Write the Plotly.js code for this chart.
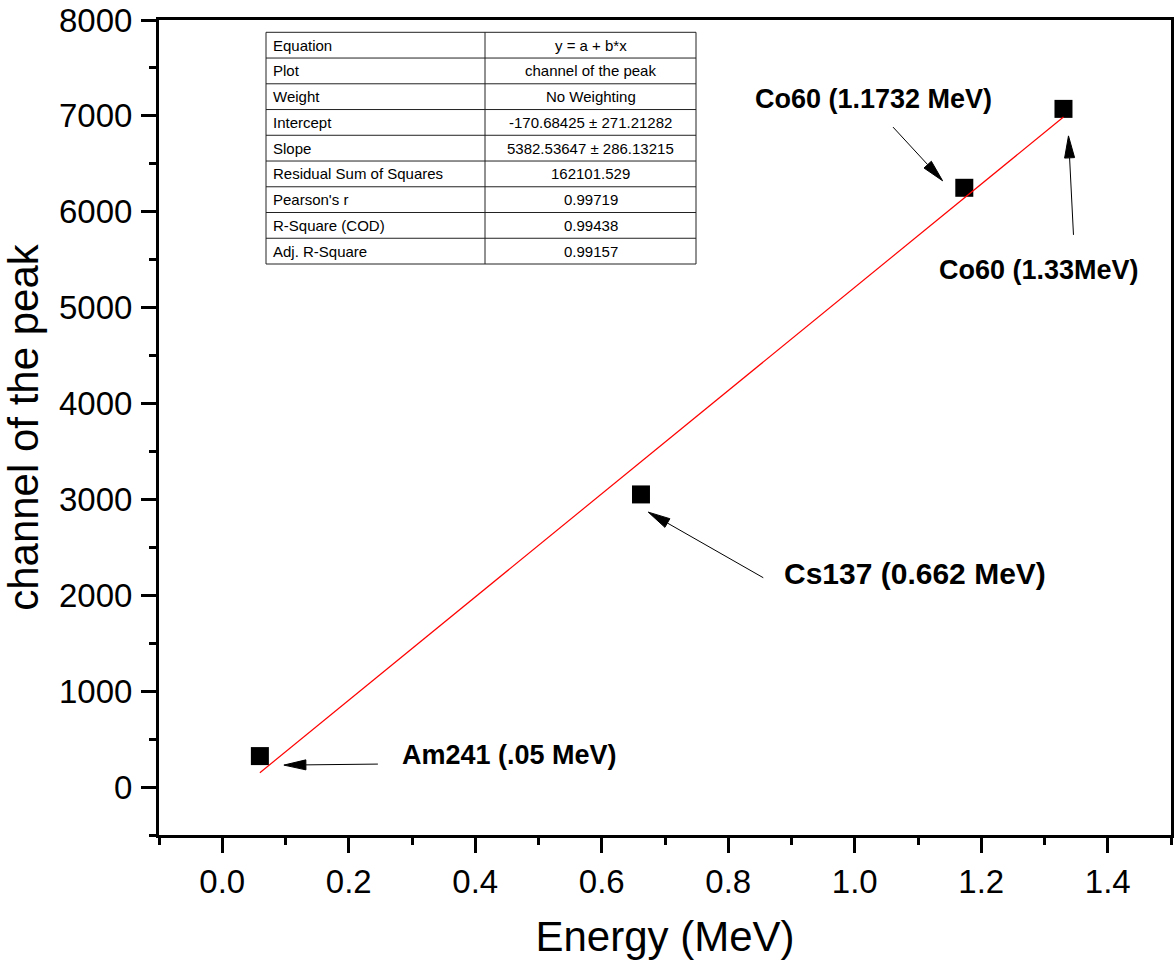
<!DOCTYPE html>
<html>
<head>
<meta charset="utf-8">
<script src="https://cdn.plot.ly/plotly-3.0.1.min.js"></script>
<style>
  html, body { margin: 0; padding: 0; background: #ffffff; }
  #chart { width: 1174px; height: 966px; }
</style>
</head>
<body>
<div id="chart"></div>
<script>
// Gamma calibration: photopeak channel versus source energy
const sourceLabels = ['Am241 (.05 MeV)', 'Cs137 (0.662 MeV)', 'Co60 (1.1732 MeV)', 'Co60 (1.33MeV)'];
const energy = [0.0595, 0.662, 1.1732, 1.33];
const peakChannel = [323, 3052, 6250, 7073];

// Linear fit y = a + b*x
const fitIntercept = -170.68425;
const fitSlope = 5382.53647;

// Fit report table
const fitTableLabels = ['Equation', 'Plot', 'Weight', 'Intercept', 'Slope',
  'Residual Sum of Squares', "Pearson's r", 'R-Square (COD)', 'Adj. R-Square'];
const fitTableValues = ['y = a + b*x', 'channel of the peak', 'No Weighting',
  '-170.68425 \u00b1 271.21282', '5382.53647 \u00b1 286.13215', '162101.529',
  '0.99719', '0.99438', '0.99157'];

// Axis tick settings
const xTickStep = 0.2, xMinorStep = 0.1;
const yTickStep = 1000, yMinorStep = 500;

const FONT = 'Liberation Sans, Arial, Helvetica, sans-serif';

// ---- page geometry (pixels) ----
const W = 1174, H = 966;
const M = { l: 159, r: 3, t: 20, b: 131 };
const plotW = W - M.l - M.r, plotH = H - M.t - M.b;
const px2paperX = px => (px - M.l) / plotW;
const px2paperY = py => (H - M.b - py) / plotH;

// Callout layout, offsets in pixels from each point (x right, y down)
const callouts = [
  { text: [140, -1], size: 27, tip: [24, 9], tail: [118, 8] },
  { text: [141, 79], size: 30, tip: [7.3, 17.7], tail: [122.3, 83.3] },
  { text: [-211, -89], size: 27, tip: [-21.7, -7], tail: [-71.3, -60.7] },
  { text: [-126, 161], size: 27, tip: [5, 27], tail: [10, 126] }
];

// Fitted line across the span of the measured energies
const fitX = [Math.min(...energy), Math.max(...energy)];
const fitY = fitX.map(x => fitIntercept + fitSlope * x);

const traces = [
  {
    type: 'scatter', mode: 'markers', x: energy, y: peakChannel,
    marker: { symbol: 'square', size: 18, color: '#000000', line: { width: 0 } },
    hoverinfo: 'x+y', showlegend: false
  },
  {
    type: 'scatter', mode: 'lines', x: fitX, y: fitY,
    line: { color: '#ff0000', width: 1.2 },
    hoverinfo: 'skip', showlegend: false
  }
];

// Arrow drawn as a pixel-sized path anchored on a data point
function arrowPath(tail, tip) {
  const up = p => [p[0], -p[1]];
  const T = up(tail), P = up(tip);
  const dx = P[0] - T[0], dy = P[1] - T[1];
  const len = Math.hypot(dx, dy);
  const ux = dx / len, uy = dy / len;
  const headLen = 22, halfW = 5;
  const bx = P[0] - ux * headLen, by = P[1] - uy * headLen;
  const nx = -uy * halfW, ny = ux * halfW;
  const f = v => v.toFixed(2);
  return `M${f(T[0])},${f(T[1])} L${f(bx)},${f(by)} ` +
         `M${f(P[0])},${f(P[1])} L${f(bx + nx)},${f(by + ny)} L${f(bx - nx)},${f(by - ny)} Z`;
}

const shapes = [];
const annotations = [];

energy.forEach((x, i) => {
  const c = callouts[i];
  shapes.push({
    type: 'path', xref: 'x', yref: 'y',
    xsizemode: 'pixel', ysizemode: 'pixel',
    xanchor: x, yanchor: peakChannel[i],
    path: arrowPath(c.tail, c.tip),
    line: { color: '#000000', width: 1 },
    fillcolor: '#000000'
  });
  annotations.push({
    xref: 'x', yref: 'y', x: x, y: peakChannel[i],
    xshift: c.text[0], yshift: -c.text[1],
    xanchor: 'left', yanchor: 'middle', showarrow: false,
    text: sourceLabels[i],
    font: { family: FONT, size: c.size, color: '#000000', weight: 'bold' }
  });
});

// Fit table: frame, rows and a column divider
const tbl = { left: 266, mid: 485, right: 696, top: 32.3, bottom: 264 };
const rowH = (tbl.bottom - tbl.top) / fitTableLabels.length;
const lineStyle = { color: '#222222', width: 1 };
shapes.push({
  type: 'rect', xref: 'paper', yref: 'paper', layer: 'above',
  x0: px2paperX(tbl.left), x1: px2paperX(tbl.right),
  y0: px2paperY(tbl.bottom), y1: px2paperY(tbl.top),
  line: lineStyle, fillcolor: 'rgba(255,255,255,1)'
});
shapes.push({
  type: 'line', xref: 'paper', yref: 'paper',
  x0: px2paperX(tbl.mid), x1: px2paperX(tbl.mid),
  y0: px2paperY(tbl.bottom), y1: px2paperY(tbl.top), line: lineStyle
});
for (let r = 1; r < fitTableLabels.length; r++) {
  const y = px2paperY(tbl.top + r * rowH);
  shapes.push({
    type: 'line', xref: 'paper', yref: 'paper',
    x0: px2paperX(tbl.left), x1: px2paperX(tbl.right), y0: y, y1: y, line: lineStyle
  });
}
fitTableLabels.forEach((lab, r) => {
  const yc = px2paperY(tbl.top + (r + 0.5) * rowH);
  const tf = { family: FONT, size: 15, color: '#000000' };
  annotations.push({
    xref: 'paper', yref: 'paper', x: px2paperX(tbl.left + 5), y: yc,
    xanchor: 'left', yanchor: 'middle', showarrow: false, text: lab, font: tf
  });
  annotations.push({
    xref: 'paper', yref: 'paper', x: px2paperX((tbl.mid + tbl.right) / 2), y: yc,
    xanchor: 'center', yanchor: 'middle', showarrow: false, text: fitTableValues[r], font: tf
  });
});

const axisCommon = {
  showgrid: false, zeroline: false,
  showline: true, mirror: true, linecolor: '#000000', linewidth: 3,
  ticks: 'outside', ticklen: 15, tickwidth: 3, tickcolor: '#000000',
  tickfont: { family: FONT, size: 33, color: '#000000' }
};

const layout = {
  width: W, height: H,
  margin: { l: M.l, r: M.r, t: M.t, b: M.b, pad: 0 },
  paper_bgcolor: '#ffffff', plot_bgcolor: '#ffffff',
  font: { family: FONT, color: '#000000' },
  showlegend: false,
  xaxis: Object.assign({}, axisCommon, {
    range: [-0.1, 1.5], tick0: 0, dtick: xTickStep, tickformat: '.1f',
    minor: { tick0: 0, dtick: xMinorStep, ticks: 'outside', ticklen: 7, tickwidth: 3, tickcolor: '#000000', showgrid: false },
    title: { text: 'Energy (MeV)', font: { family: FONT, size: 42, color: '#000000' }, standoff: 24 }
  }),
  yaxis: Object.assign({}, axisCommon, {
    range: [-500, 8000], tick0: 0, dtick: yTickStep, ticklabelstandoff: 2,
    minor: { tick0: 0, dtick: yMinorStep, ticks: 'outside', ticklen: 7, tickwidth: 3, tickcolor: '#000000', showgrid: false },
    title: { text: 'channel of the peak', font: { family: FONT, size: 42, color: '#000000' }, standoff: 11 }
  }),
  shapes: shapes,
  annotations: annotations
};

Plotly.newPlot('chart', traces, layout, { displayModeBar: false, staticPlot: true });
</script>
</body>
</html>
